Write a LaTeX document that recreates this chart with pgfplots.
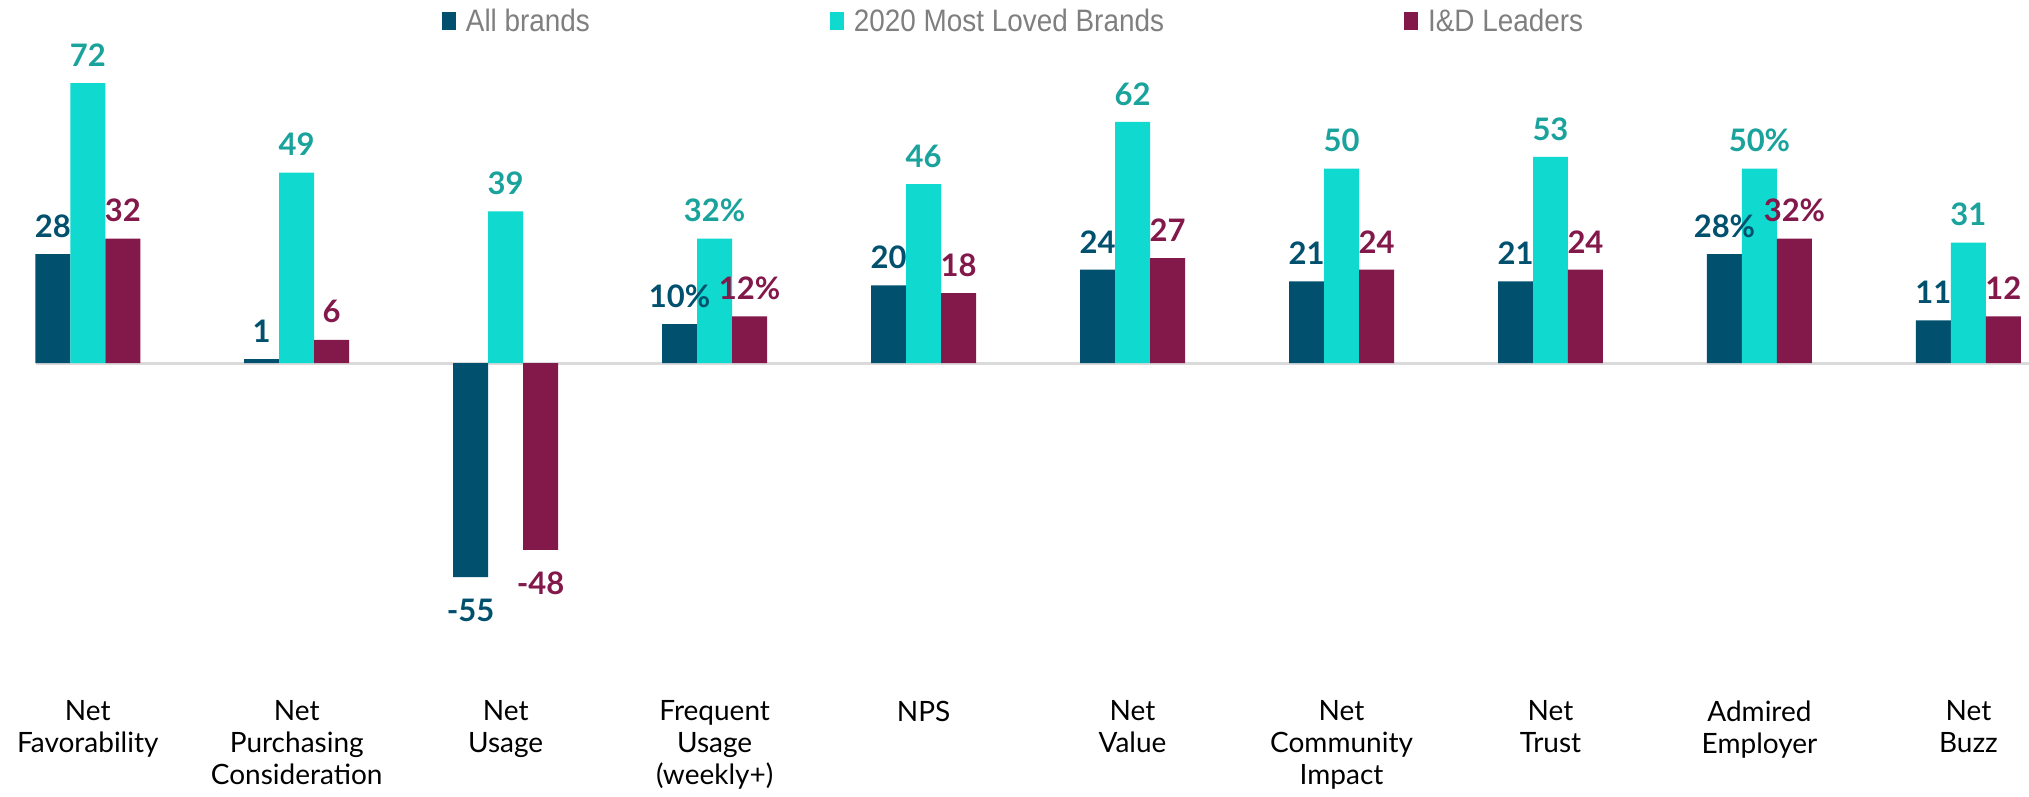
\documentclass[border=0pt]{standalone}
\usepackage{pgfplots}
\pgfplotsset{compat=1.18}
\usepackage{fontspec}
\setmainfont{Lato}
\newfontfamily\legendfont{Liberation Sans}[FakeStretch=0.9]
\definecolor{allb}{HTML}{00506E}
\definecolor{loved}{HTML}{10D9CF}
\definecolor{lovedtxt}{HTML}{1AA39C}
\definecolor{ind}{HTML}{83184A}
\definecolor{zeroline}{HTML}{DADADA}
\definecolor{legtext}{HTML}{7F7F7F}
\begin{document}
\begin{tikzpicture}
\begin{axis}[
  scale only axis,
  width=1014.5pt, height=346.8pt,
  xmin=-0.42, xmax=9.29,
  ymin=-85, ymax=93.3,
  ybar=0pt, bar width=17.5pt,
  axis line style={draw=none},
  major tick length=0pt,
  ytick=\empty,
  xtick={0,...,9},
  xticklabels={Net\\Favorability, Net\\Purchasing\\Consideration, Net\\Usage,
    Frequent\\Usage\\(weekly+), NPS, Net\\Value, Net\\Community\\Impact,
    Net\\Trust, Admired\\Employer, Net\\Buzz},
  xticklabel style={align=center, font=\fontsize{14}{16}\selectfont, text=black},
  nodes near coords,
  point meta=explicit symbolic,
  visualization depends on={y \as \rawy},
  every node near coord/.append style={font=\bfseries\fontsize{15.5}{17}\selectfont,
    anchor=center, yshift={ifthenelse(\rawy<0,-16.5,14)*1pt}},
  legend style={at={(0.5,1)}, anchor=north, draw=none, fill=none,
    legend columns=3, font=\legendfont\fontsize{15.5}{18}\selectfont, text=legtext,
    /tikz/every odd column/.append style={column sep=3pt},
    /tikz/every even column/.append style={column sep=118pt}},
  legend image code/.code={\fill (0pt,-0.45em) rectangle (0.7em,0.45em);},
]
\draw[zeroline, line width=1.5pt] (axis cs:-0.25,0) -- (axis cs:9.29,0);
\addplot[fill=allb, draw=none, every node near coord/.append style={text=allb}]
  coordinates {(0,28)[28] (1,1)[1] (2,-55)[-55] (3,10)[10\%] (4,20)[20]
    (5,24)[24] (6,21)[21] (7,21)[21] (8,28)[28\%] (9,11)[11]};
\addplot[fill=loved, draw=none, every node near coord/.append style={text=lovedtxt}]
  coordinates {(0,72)[72] (1,49)[49] (2,39)[39] (3,32)[32\%] (4,46)[46]
    (5,62)[62] (6,50)[50] (7,53)[53] (8,50)[50\%] (9,31)[31]};
\addplot[fill=ind, draw=none, every node near coord/.append style={text=ind}]
  coordinates {(0,32)[32] (1,6)[6] (2,-48)[-48] (3,12)[12\%] (4,18)[18]
    (5,27)[27] (6,24)[24] (7,24)[24] (8,32)[32\%] (9,12)[12]};
\legend{All brands, 2020 Most Loved Brands, I\&D Leaders}
\end{axis}
\end{tikzpicture}
\end{document}
